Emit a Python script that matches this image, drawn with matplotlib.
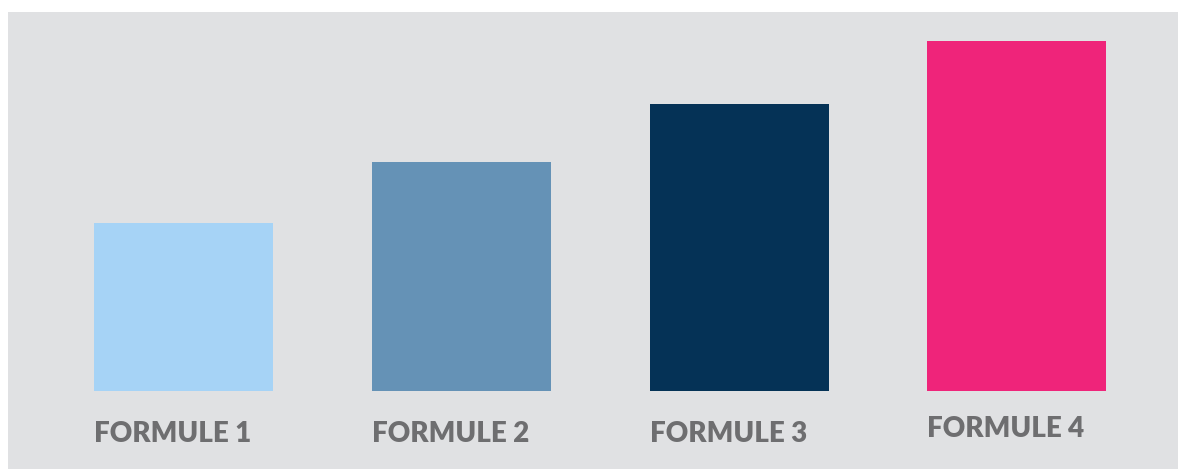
import matplotlib
matplotlib.use("Agg")
import matplotlib.pyplot as plt
from matplotlib.patches import Rectangle

categories = ["FORMULE 1", "FORMULE 2", "FORMULE 3", "FORMULE 4"]
values = [168, 229, 287, 350]
colors = ["#a6d3f6", "#6592b6", "#053256", "#ef247a"]
label_dy = [0, 0, 0, 5]

fig = plt.figure(figsize=(11.79, 4.70), dpi=100)
fig.patch.set_facecolor("white")

ax = fig.add_axes([0, 0, 1, 1])
ax.set_facecolor("none")
ax.add_patch(Rectangle((8 / 1179, 1 / 470), 1170 / 1179, 457 / 470,
                       transform=ax.transAxes, facecolor="#e0e1e3",
                       edgecolor="none", zorder=0))
x = list(range(len(categories)))
width = 0.645
ax.bar(x, values, width=width, color=colors, zorder=2)
ax.set_xlim(-0.6615, 3.584)
ax.set_ylim(-79, 391)
ax.axis("off")

for i, lab in enumerate(categories):
    ax.text(i - width / 2, -43 + label_dy[i], lab, ha="left", va="center",
            fontsize=20, fontweight="heavy", color="#6e6e70",
            family=["Lato", "DejaVu Sans"], zorder=3)

fig.savefig("out.png", dpi=100)
